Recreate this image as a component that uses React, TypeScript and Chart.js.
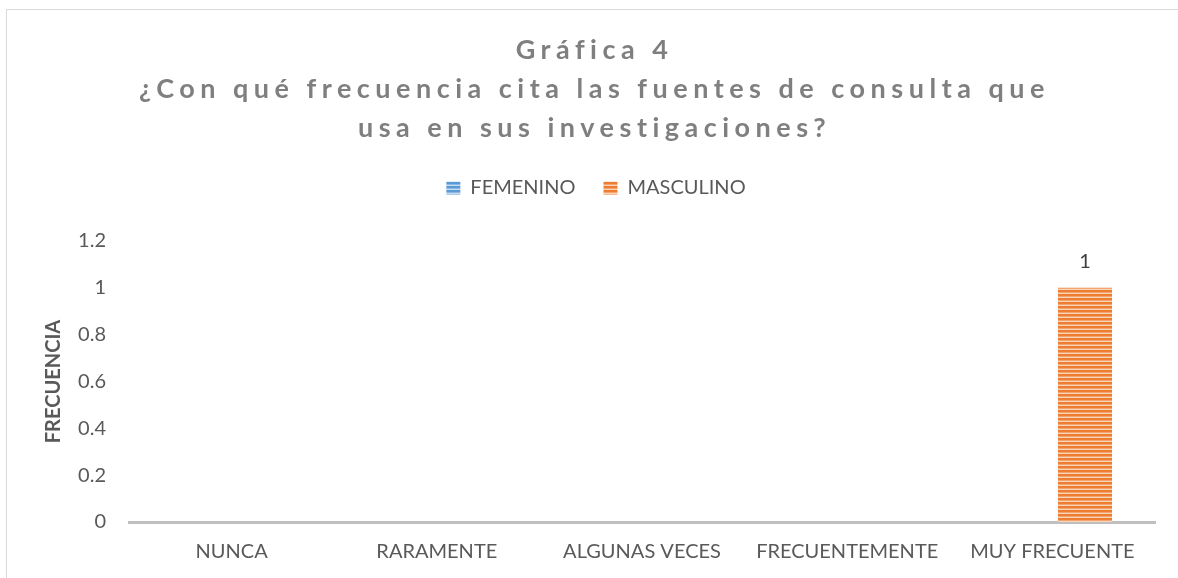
import React, { useEffect, useRef } from 'react';
import { Chart, registerables } from 'chart.js';

Chart.register(...registerables);

const categories = ['NUNCA', 'RARAMENTE', 'ALGUNAS VECES', 'FRECUENTEMENTE', 'MUY FRECUENTE'];
const seriesNames = ['FEMENINO', 'MASCULINO'];
const femenino = [0, 0, 0, 0, 0];
const masculino = [0, 0, 0, 0, 1];
const yTicks = [0, 0.2, 0.4, 0.6, 0.8, 1, 1.2];
const titleLines = [
  'Gráfica 4',
  '¿Con qué frecuencia cita las fuentes de consulta que',
  'usa en sus investigaciones?',
];
const yAxisTitle = 'FRECUENCIA';

const FONT = 'Lato';
const FS = 20;

function stripes(ctx: CanvasRenderingContext2D, dark: string, mid: string, light: string) {
  const c = document.createElement('canvas');
  c.width = 4;
  c.height = 4;
  const g = c.getContext('2d')!;
  g.fillStyle = dark;
  g.fillRect(0, 0, 4, 2);
  g.fillStyle = mid;
  g.fillRect(0, 2, 4, 1);
  g.fillStyle = light;
  g.fillRect(0, 3, 4, 1);
  return ctx.createPattern(c, 'repeat')!;
}

const titlePlugin = {
  id: 'spacedTitle',
  afterDraw(chart: any) {
    const ctx = chart.ctx as CanvasRenderingContext2D;
    ctx.save();
    ctx.font = `bold 27px ${FONT}`;
    (ctx as any).letterSpacing = '5.5px';
    ctx.fillStyle = '#7f7f7f';
    ctx.textAlign = 'center';
    ctx.textBaseline = 'middle';
    const cx = chart.width / 2 + 2;
    const ys = [40, 79, 118];
    titleLines.forEach((t, i) => ctx.fillText(t, cx, ys[i]));
    ctx.restore();
  },
};

const legendShift = {
  id: 'legendShift',
  afterLayout(chart: any) {
    const lg = chart.legend;
    if (lg) {
      lg.left += 15;
      lg.right += 15;
    }
  },
};

const labelPlugin = {
  id: 'barLabels',
  afterDatasetsDraw(chart: any) {
    const ctx = chart.ctx as CanvasRenderingContext2D;
    ctx.save();
    ctx.font = `${FS}px ${FONT}`;
    ctx.fillStyle = '#404040';
    ctx.textAlign = 'center';
    ctx.textBaseline = 'middle';
    const meta = chart.getDatasetMeta(1);
    meta.data.forEach((bar: any, i: number) => {
      const v = masculino[i];
      if (v > 0) ctx.fillText(String(v), bar.x, bar.y - 26);
    });
    ctx.restore();
  },
};

export default function App() {
  const ref = useRef<HTMLCanvasElement>(null);
  useEffect(() => {
    const canvas = ref.current!;
    const ctx = canvas.getContext('2d')!;
    const blue = stripes(ctx, '#5b9bd5', '#8db8e4', '#c5dcf1');
    const orange = stripes(ctx, '#ed7d31', '#f3a46f', '#f9d3b8');
    const chart = new Chart(canvas, {
      type: 'bar',
      data: {
        labels: categories,
        datasets: [
          { label: seriesNames[0], data: femenino, backgroundColor: blue as any, borderWidth: 0, categoryPercentage: 0.636, barPercentage: 0.828 },
          { label: seriesNames[1], data: masculino, backgroundColor: orange as any, borderWidth: 0, categoryPercentage: 0.636, barPercentage: 0.828 },
        ],
      },
      options: {
        responsive: false,
        animation: false,
        layout: { padding: { top: 140, right: 23, left: 0, bottom: 0 } },
        plugins: {
          legend: {
            position: 'top',
            weight: 3000,
            labels: {
              boxWidth: 14,
              boxHeight: 13,
              padding: 28,
              color: '#595959',
              font: { family: FONT, size: FS },
            },
          } as any,
          title: {
            display: true,
            text: '',
            font: { size: 10, lineHeight: 1 },
            padding: { top: 23, bottom: 0 },
          },
          tooltip: { enabled: false },
        },
        scales: {
          x: {
            grid: { display: false, drawTicks: false },
            border: { display: true, color: '#bfbfbf', width: 3 },
            ticks: { color: '#595959', font: { family: FONT, size: FS }, padding: 18, maxRotation: 0 },
            afterFit: (s: any) => { s.height = 56; },
          },
          y: {
            min: 0,
            max: 1.2,
            grid: { display: false, drawTicks: false },
            border: { display: false },
            afterBuildTicks: (s: any) => { s.ticks = yTicks.map((v) => ({ value: v })); },
            ticks: {
              color: '#595959',
              font: { family: FONT, size: FS },
              padding: 23,
              callback: (v: any) => String(v),
            },
            title: {
              display: true,
              text: yAxisTitle,
              color: '#595959',
              font: { family: FONT, size: FS, weight: 'bold' },
              padding: { top: 35, bottom: 0 },
            },
            afterFit: (s: any) => { s.width = 122; },
          },
        },
      },
      plugins: [titlePlugin, labelPlugin, legendShift],
    });
    return () => chart.destroy();
  }, []);
  return (
    <div
      style={{
        position: 'fixed',
        left: 6,
        top: 9,
        width: 1200,
        height: 600,
        borderLeft: '1px solid #d9d9d9',
        borderTop: '1px solid #d9d9d9',
        background: '#fff',
      }}
    >
      <canvas ref={ref} width={1171} height={568} style={{ display: 'block' }} />
    </div>
  );
}
